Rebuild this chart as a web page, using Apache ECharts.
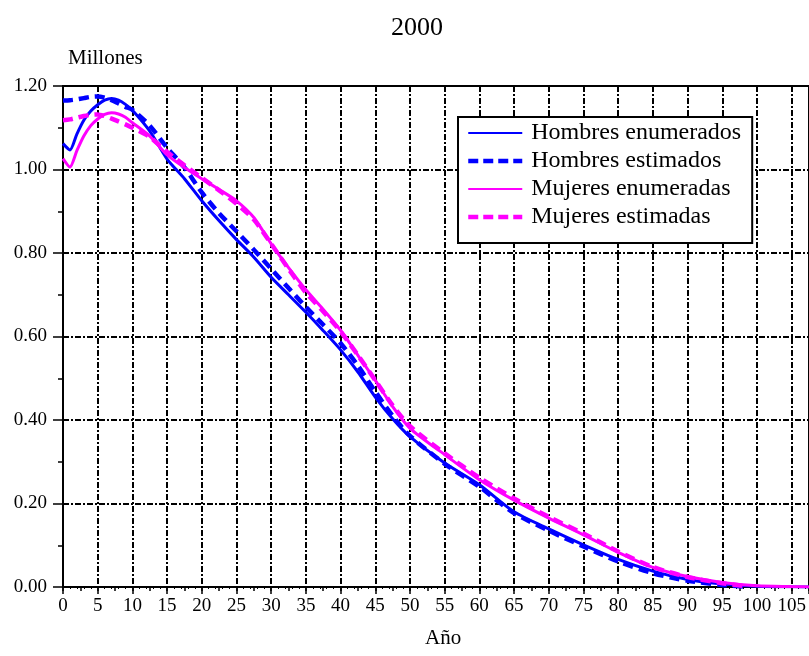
<!DOCTYPE html>
<html><head><meta charset="utf-8">
<script src="https://cdn.jsdelivr.net/npm/echarts@6/dist/echarts.min.js"></script>
<style>html,body{margin:0;padding:0;background:#fff;}#c{width:809px;height:656px;}</style>
</head><body><div id="c"></div>
<script>
const agesEnum = [0,1,2,3,4,5,6,7,8,9,10,12.5,15,17.5,20,22.5,25,27.5,30,32.5,35,37.5,40,42.5,45,47.5,50,55,60,65,70,75,80,85,90,95,100,105,108];
const hombresEnumerados = [1.062,1.047,1.085,1.118,1.140,1.155,1.166,1.170,1.166,1.156,1.142,1.092,1.025,0.978,0.925,0.877,0.832,0.790,0.742,0.700,0.658,0.614,0.568,0.515,0.455,0.403,0.360,0.297,0.245,0.180,0.139,0.101,0.066,0.038,0.018,0.007,0.002,0.0005,0];
const mujeresEnumeradas = [1.026,1.006,1.045,1.080,1.105,1.121,1.132,1.136,1.133,1.125,1.112,1.080,1.035,1.005,0.978,0.952,0.925,0.885,0.822,0.765,0.712,0.665,0.615,0.555,0.495,0.432,0.380,0.317,0.257,0.208,0.165,0.125,0.083,0.047,0.025,0.011,0.003,0.001,0];
const agesEst = [0,1,2,3,4,5,6,7,8,9,10,12.5,15,17.5,20,22.5,25,27.5,30,32.5,35,37.5,40,42.5,45,47.5,50,55,60,65,70,75,80,85,90,95,98];
const hombresEstimados = [1.165,1.166,1.168,1.171,1.174,1.175,1.172,1.166,1.158,1.150,1.143,1.105,1.052,1.005,0.945,0.895,0.852,0.808,0.762,0.716,0.671,0.628,0.584,0.530,0.468,0.410,0.362,0.295,0.240,0.177,0.135,0.097,0.061,0.033,0.015,0.005,0.001];
const mujeresEstimadas = [1.118,1.120,1.124,1.128,1.131,1.132,1.128,1.122,1.115,1.108,1.100,1.078,1.042,1.010,0.980,0.950,0.918,0.880,0.822,0.762,0.705,0.660,0.612,0.555,0.495,0.435,0.385,0.320,0.262,0.212,0.168,0.128,0.085,0.048,0.024,0.009,0.003];
const seriesNames = ['Hombres enumerados','Hombres estimados','Mujeres enumeradas','Mujeres estimadas'];

const pairs = (xs, ys) => xs.map((x, i) => [x, ys[i]]);
const FONT = '"Liberation Serif","Times New Roman",serif';
const gridDash = [6,2,2,2];
const BLUE = '#0000ff', MAG = '#ff00ff';
const solidLegend = {width: 2};
const dashedLegend = {width: 4.5, type: [10, 5]};

const chart = echarts.init(document.getElementById('c'));
chart.setOption({
  animation: false,
  backgroundColor: '#fff',
  title: [
    {text: '2000', left: 386, top: 10, textStyle: {fontFamily: FONT, fontSize: 26, fontWeight: 'normal', color: '#000'}},
    {text: 'Millones', left: 63, top: 43, textStyle: {fontFamily: FONT, fontSize: 21, fontWeight: 'normal', color: '#000'}},
    {text: 'Año', left: 420, top: 623, textStyle: {fontFamily: FONT, fontSize: 21, fontWeight: 'normal', color: '#000'}}
  ],
  grid: {left: 63, top: 86, right: 0, bottom: 69, show: true, borderColor: '#000', borderWidth: 2},
  legend: {
    orient: 'vertical', left: 458, top: 117,
    padding: [4, 11, 14, 8],
    itemWidth: 54, itemHeight: 24, itemGap: 4,
    backgroundColor: '#fff', borderColor: '#000', borderWidth: 2, borderRadius: 0,
    itemStyle: {opacity: 0},
    textStyle: {fontFamily: FONT, fontSize: 24, color: '#000', padding: [0,0,0,4]},
    data: [
      {name: seriesNames[0], lineStyle: solidLegend},
      {name: seriesNames[1], lineStyle: dashedLegend},
      {name: seriesNames[2], lineStyle: solidLegend},
      {name: seriesNames[3], lineStyle: dashedLegend}
    ]
  },
  xAxis: [{
    type: 'value', min: 0, max: 107.5, interval: 5,
    axisLine: {lineStyle: {color: '#000', width: 2}},
    axisTick: {length: 7, lineStyle: {color: '#000', width: 1.5}},
    minorTick: {show: true, splitNumber: 5, length: 2, lineStyle: {color: '#000', width: 1}},
    axisLabel: {fontFamily: FONT, fontSize: 19, color: '#000', margin: 10, showMaxLabel: false},
    splitLine: {show: true, showMaxLine: false, lineStyle: {color: '#000', width: 2, type: gridDash}}
  }, {
    type: 'value', min: 0, max: 107.5, interval: 2.5, position: 'bottom',
    axisLine: {show: false}, axisLabel: {show: false}, splitLine: {show: false},
    axisTick: {length: 4, lineStyle: {color: '#000', width: 1.5}}
  }],
  yAxis: {
    type: 'value', min: 0, max: 1.2, interval: 0.2,
    axisLine: {show: true, lineStyle: {color: '#000', width: 2}},
    axisTick: {show: true, length: 10, lineStyle: {color: '#000', width: 1.5}},
    minorTick: {show: true, splitNumber: 2, length: 5, lineStyle: {color: '#000', width: 1.5}},
    axisLabel: {fontFamily: FONT, fontSize: 19, color: '#000', margin: 16, formatter: v => v.toFixed(2)},
    splitLine: {show: true, showMinLine: false, showMaxLine: false, lineStyle: {color: '#000', width: 2, type: gridDash}}
  },
  series: [
    {name: seriesNames[0], type: 'line', data: pairs(agesEnum, hombresEnumerados), showSymbol: false, symbol: 'none', smooth: 0.25, lineStyle: {color: BLUE, width: 3}, itemStyle: {color: BLUE}},
    {name: seriesNames[1], type: 'line', data: pairs(agesEst, hombresEstimados), showSymbol: false, symbol: 'none', smooth: 0.25, lineStyle: {color: BLUE, width: 4.5, type: [10, 6]}, itemStyle: {color: BLUE}},
    {name: seriesNames[2], type: 'line', data: pairs(agesEnum, mujeresEnumeradas), showSymbol: false, symbol: 'none', smooth: 0.25, lineStyle: {color: MAG, width: 3}, itemStyle: {color: MAG}},
    {name: seriesNames[3], type: 'line', data: pairs(agesEst, mujeresEstimadas), showSymbol: false, symbol: 'none', smooth: 0.25, lineStyle: {color: MAG, width: 4.5, type: [10, 6]}, itemStyle: {color: MAG}}
  ]
});
</script></body></html>
